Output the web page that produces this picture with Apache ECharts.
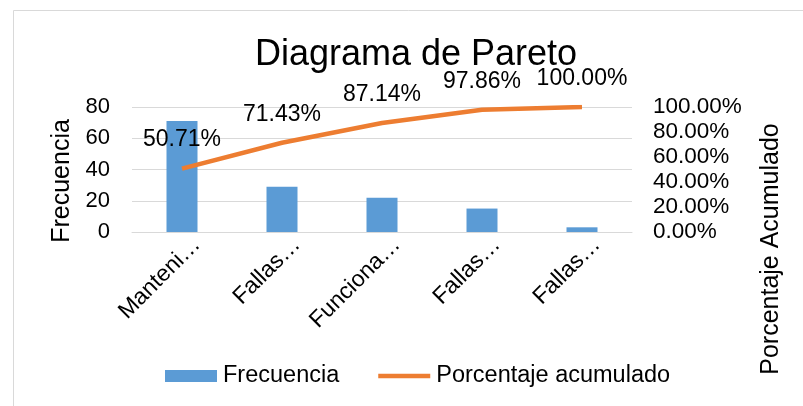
<!DOCTYPE html>
<html>
<head>
<meta charset="utf-8">
<script src="https://cdn.jsdelivr.net/npm/echarts@6/dist/echarts.min.js"></script>
<style>
html,body{margin:0;padding:0;background:#fff;}
#chart{width:803px;height:406px;}
</style>
</head>
<body>
<div id="chart"></div>
<script>
// ---- data ----
const categories = ['Manteni…', 'Fallas…', 'Funciona…', 'Fallas…', 'Fallas…'];
const frecuencia = [71, 29, 22, 15, 3];
const porcentajeAcumulado = [0.5071, 0.7143, 0.8714, 0.9786, 1.0];
const leftTicks = { min: 0, max: 80, interval: 20 };
const rightTicks = { min: 0, max: 1, interval: 0.2 };
const titleText = 'Diagrama de Pareto';
const leftAxisName = 'Frecuencia';
const rightAxisName = 'Porcentaje Acumulado';
const seriesNames = ['Frecuencia', 'Porcentaje acumulado'];

const FONT = '"Liberation Sans", Arial, sans-serif';
const pct = v => (v * 100).toFixed(2) + '%';

const chart = echarts.init(document.getElementById('chart'), null, { renderer: 'canvas' });
chart.setOption({
  animation: false,
  backgroundColor: '#ffffff',
  textStyle: { fontFamily: FONT, color: '#000' },
  grid: { left: 132, right: 171, top: 107, bottom: 174, containLabel: false, outerBoundsMode: 'none' },
  graphic: [
    { type: 'rect', shape: { x: 13.5, y: 10.5, width: 820, height: 420 }, style: { fill: null, stroke: '#d9d9d9', lineWidth: 1 }, silent: true },
    { type: 'text', x: 416, y: 55, style: { text: titleText, font: '36px ' + FONT, fill: '#000', align: 'center', verticalAlign: 'middle' } },
    { type: 'text', x: 62, y: 181, rotation: Math.PI / 2, style: { text: leftAxisName, font: '25px ' + FONT, fill: '#000', align: 'center', verticalAlign: 'middle' } },
    { type: 'text', x: 771, y: 249, rotation: Math.PI / 2, style: { text: rightAxisName, font: '25px ' + FONT, fill: '#000', align: 'center', verticalAlign: 'middle' } }
  ],
  legend: {
    left: 165, top: 364, padding: 0,
    itemWidth: 52, itemHeight: 12, itemGap: 39,
    textStyle: { fontFamily: FONT, fontSize: 23.5, color: '#000', padding: [0, 0, 0, 1] },
    data: [
      { name: seriesNames[0], icon: 'rect' },
      { name: seriesNames[1], icon: 'path://M0 0H57V5H0Z' }
    ]
  },
  xAxis: {
    type: 'category',
    data: categories,
    axisLine: { lineStyle: { color: '#d9d9d9', width: 1 } },
    axisTick: { show: false },
    axisLabel: {
      interval: 0, rotate: 45, margin: 24,
      padding: [0, -21, 0, 0],
      fontFamily: FONT, fontSize: 23, color: '#000'
    }
  },
  yAxis: [
    {
      type: 'value', min: leftTicks.min, max: leftTicks.max, interval: leftTicks.interval,
      axisLine: { show: false }, axisTick: { show: false },
      splitLine: { lineStyle: { color: '#d9d9d9', width: 1 } },
      axisLabel: { margin: 22, fontFamily: FONT, fontSize: 22, color: '#000' }
    },
    {
      type: 'value', min: rightTicks.min, max: rightTicks.max, interval: rightTicks.interval,
      axisLine: { show: false }, axisTick: { show: false },
      splitLine: { show: false },
      axisLabel: { margin: 21, fontFamily: FONT, fontSize: 22.5, color: '#000', formatter: pct }
    }
  ],
  series: [
    {
      name: seriesNames[0], type: 'bar', yAxisIndex: 0,
      data: frecuencia, barWidth: 31,
      itemStyle: { color: '#5B9BD5' }
    },
    {
      name: seriesNames[1], type: 'line', yAxisIndex: 1,
      data: porcentajeAcumulado,
      symbol: 'circle', symbolSize: 0.01, showSymbol: true,
      lineStyle: { color: '#ED7D31', width: 4.5 },
      itemStyle: { color: '#ED7D31' },
      label: {
        show: true, position: 'top', distance: 17,
        formatter: p => pct(p.value),
        fontFamily: FONT, fontSize: 23, color: '#000'
      }
    }
  ]
});
</script>
</body>
</html>
